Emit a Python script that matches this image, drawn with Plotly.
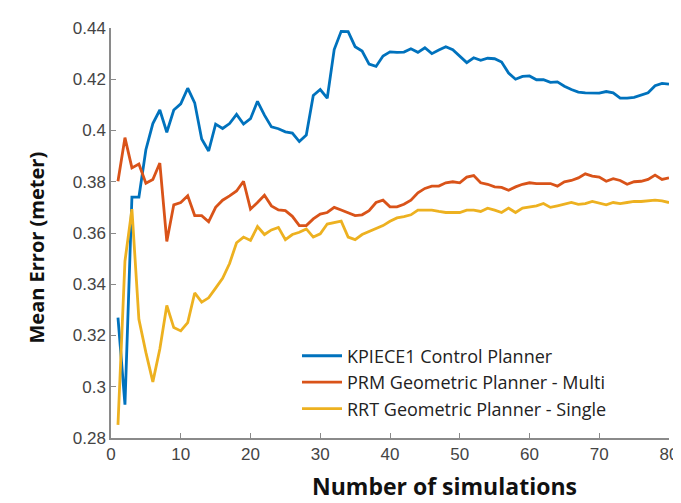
import plotly.graph_objects as go

sims = list(range(1, 81))

kpiece = [0.327, 0.293, 0.374, 0.374, 0.3925, 0.4027, 0.408, 0.3993, 0.408, 0.4104,
          0.4165, 0.4108, 0.3967, 0.392, 0.4025, 0.4008, 0.4027, 0.4063, 0.4025, 0.4046,
          0.4114, 0.406, 0.4014, 0.4007, 0.3995, 0.399, 0.3957, 0.3982, 0.4137, 0.416,
          0.4126, 0.4316, 0.4387, 0.4386, 0.4327, 0.431, 0.4259, 0.425, 0.4291, 0.4307,
          0.4305, 0.4306, 0.4319, 0.4305, 0.4323, 0.430, 0.4314, 0.4327, 0.4315, 0.4291,
          0.4265, 0.4284, 0.4274, 0.4282, 0.428, 0.4267, 0.4224, 0.420, 0.4211, 0.4213,
          0.4198, 0.4198, 0.4188, 0.419, 0.4173, 0.416, 0.415, 0.4147, 0.4146, 0.4146,
          0.4152, 0.4147, 0.4126, 0.4126, 0.4129, 0.4137, 0.4147, 0.4175, 0.4184, 0.4181]

prm = [0.3802, 0.3972, 0.3854, 0.3869, 0.3794, 0.3809, 0.3873, 0.3567, 0.371, 0.3719,
       0.3745, 0.3668, 0.3668, 0.3644, 0.370, 0.3728, 0.3745, 0.3764, 0.3802, 0.3693,
       0.3719, 0.3747, 0.3706, 0.369, 0.3687, 0.3665, 0.3629, 0.3629, 0.3655, 0.3674,
       0.368, 0.370, 0.369, 0.368, 0.3668, 0.3671, 0.3687, 0.3719, 0.3728, 0.3702,
       0.3702, 0.3712, 0.3728, 0.3757, 0.3774, 0.3783, 0.3783, 0.3796, 0.380, 0.3796,
       0.3818, 0.3824, 0.3796, 0.379, 0.378, 0.3778, 0.3767, 0.378, 0.379, 0.3796,
       0.3793, 0.3793, 0.3793, 0.3783, 0.380, 0.3805, 0.3815, 0.3831, 0.3822, 0.3818,
       0.3802, 0.3812, 0.3805, 0.379, 0.380, 0.3802, 0.3809, 0.3826, 0.3809, 0.3815]

rrt = [0.2851, 0.349, 0.3693, 0.3263, 0.3134, 0.3019, 0.3147, 0.3317, 0.3231, 0.3218,
       0.325, 0.3366, 0.333, 0.3347, 0.3385, 0.3423, 0.3481, 0.3562, 0.3584, 0.3571,
       0.3625, 0.3594, 0.3612, 0.3622, 0.3574, 0.3594, 0.3603, 0.3616, 0.3584, 0.3597,
       0.3635, 0.3642, 0.3646, 0.3584, 0.3574, 0.3594, 0.3606, 0.3616, 0.3629, 0.3646,
       0.3659, 0.3664, 0.3671, 0.3689, 0.3689, 0.3689, 0.3684, 0.368, 0.368, 0.368,
       0.3689, 0.3689, 0.3684, 0.3697, 0.3689, 0.368, 0.3697, 0.368, 0.3697, 0.3702,
       0.3706, 0.3715, 0.370, 0.3706, 0.3712, 0.3719, 0.3712, 0.3715, 0.3723, 0.3715,
       0.371, 0.3719, 0.3715, 0.3719, 0.3723, 0.3723, 0.3725, 0.3728, 0.3725, 0.3719]

series_names = ["KPIECE1 Control Planner", "PRM Geometric Planner - Multi",
                "RRT Geometric Planner - Single"]
colors = ["#0072BD", "#D95319", "#EDB120"]

y_tickvals = [0.28, 0.30, 0.32, 0.34, 0.36, 0.38, 0.40, 0.42, 0.44]
y_ticktext = ["0.28", "0.3", "0.32", "0.34", "0.36", "0.38", "0.4", "0.42", "0.44"]
x_tickvals = [0, 10, 20, 30, 40, 50, 60, 70, 80]

fig = go.Figure()
for name, ys, c in zip(series_names, [kpiece, prm, rrt], colors):
    fig.add_trace(go.Scatter(x=sims, y=ys, mode="lines", name=name,
                             line=dict(color=c, width=2.8)))

axis_common = dict(showgrid=False, zeroline=False, showline=True, linecolor="#8a8a8a",
                   linewidth=1.5, ticks="inside", ticklen=5, tickcolor="#8a8a8a",
                   ticklabeloverflow="allow",
                   tickfont=dict(family="Liberation Sans, Arial", size=17, color="#444444"))

fig.update_layout(
    width=681, height=503,
    margin=dict(l=103, r=11, t=15, b=73),
    paper_bgcolor="white", plot_bgcolor="white",
    xaxis=dict(range=[0, 80], tickvals=x_tickvals, **axis_common),
    yaxis=dict(range=[0.28, 0.44], tickvals=y_tickvals, ticktext=y_ticktext, **axis_common),
    legend=dict(x=(292 - 103) / 567, y=0.245, xanchor="left", yanchor="top",
                font=dict(family="Open Sans", size=18, color="#222222"),
                bgcolor="rgba(255,255,255,0)", tracegroupgap=0, itemwidth=40),
    showlegend=True,
)

fig.add_annotation(text="<b>Number of simulations</b>", xref="paper", yref="paper",
                   x=(442 - 103) / 567, y=-(497 - 430) / 415, xanchor="center", yanchor="bottom",
                   showarrow=False, font=dict(family="Open Sans", size=23, color="#111111"))
fig.add_annotation(text="<b>Mean Error (meter)</b>", xref="paper", yref="paper",
                   x=-(103 - 27) / 567, y=(430 - 237) / 415, xanchor="center", yanchor="middle",
                   textangle=-90, showarrow=False,
                   font=dict(family="Open Sans", size=20, color="#111111"))

fig.write_html("out.html")
